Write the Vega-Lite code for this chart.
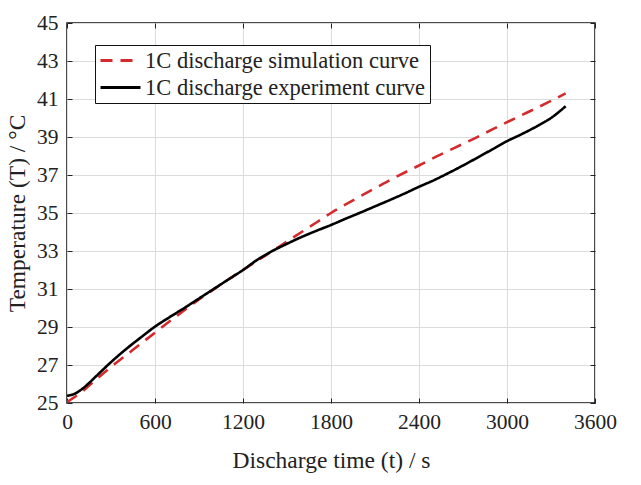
{
  "$schema": "https://vega.github.io/schema/vega-lite/v6.json",
  "width": 528,
  "height": 380,
  "autosize": {"type": "none"},
  "padding": {"left": 67, "top": 23, "right": 46, "bottom": 82},
  "background": "white",
  "config": {
    "view": {"stroke": "#111", "strokeWidth": 1.5},
    "font": "Liberation Serif",
    "axis": {
      "labelFont": "Liberation Serif",
      "titleFont": "Liberation Serif",
      "labelFontSize": 21.5,
      "titleFontSize": 23.5,
      "titleFontWeight": "normal",
      "labelColor": "#222",
      "titleColor": "#222",
      "gridColor": "#dcdcdc",
      "gridWidth": 1,
      "tickColor": "#222",
      "tickSize": -5,
      "tickWidth": 1,
      "domain": false,
      "labelFlush": false,
      "format": "d"
    },
    "legend": {"labelFont": "Liberation Serif"}
  },
  "data": {
    "values": [
      {"t": 0, "T": 25.05, "s": "1C discharge simulation curve"},
      {"t": 100, "T": 25.58, "s": "1C discharge simulation curve"},
      {"t": 200, "T": 26.25, "s": "1C discharge simulation curve"},
      {"t": 300, "T": 26.9, "s": "1C discharge simulation curve"},
      {"t": 400, "T": 27.5, "s": "1C discharge simulation curve"},
      {"t": 500, "T": 28.1, "s": "1C discharge simulation curve"},
      {"t": 600, "T": 28.7, "s": "1C discharge simulation curve"},
      {"t": 700, "T": 29.3, "s": "1C discharge simulation curve"},
      {"t": 800, "T": 29.88, "s": "1C discharge simulation curve"},
      {"t": 900, "T": 30.45, "s": "1C discharge simulation curve"},
      {"t": 1000, "T": 30.98, "s": "1C discharge simulation curve"},
      {"t": 1100, "T": 31.5, "s": "1C discharge simulation curve"},
      {"t": 1200, "T": 32.0, "s": "1C discharge simulation curve"},
      {"t": 1300, "T": 32.5, "s": "1C discharge simulation curve"},
      {"t": 1400, "T": 33.0, "s": "1C discharge simulation curve"},
      {"t": 1500, "T": 33.5, "s": "1C discharge simulation curve"},
      {"t": 1600, "T": 34.0, "s": "1C discharge simulation curve"},
      {"t": 1700, "T": 34.5, "s": "1C discharge simulation curve"},
      {"t": 1800, "T": 35.0, "s": "1C discharge simulation curve"},
      {"t": 1900, "T": 35.45, "s": "1C discharge simulation curve"},
      {"t": 2000, "T": 35.88, "s": "1C discharge simulation curve"},
      {"t": 2100, "T": 36.3, "s": "1C discharge simulation curve"},
      {"t": 2200, "T": 36.72, "s": "1C discharge simulation curve"},
      {"t": 2300, "T": 37.12, "s": "1C discharge simulation curve"},
      {"t": 2400, "T": 37.5, "s": "1C discharge simulation curve"},
      {"t": 2500, "T": 37.9, "s": "1C discharge simulation curve"},
      {"t": 2600, "T": 38.27, "s": "1C discharge simulation curve"},
      {"t": 2700, "T": 38.64, "s": "1C discharge simulation curve"},
      {"t": 2800, "T": 39.01, "s": "1C discharge simulation curve"},
      {"t": 2900, "T": 39.4, "s": "1C discharge simulation curve"},
      {"t": 3000, "T": 39.78, "s": "1C discharge simulation curve"},
      {"t": 3100, "T": 40.15, "s": "1C discharge simulation curve"},
      {"t": 3200, "T": 40.52, "s": "1C discharge simulation curve"},
      {"t": 3300, "T": 40.9, "s": "1C discharge simulation curve"},
      {"t": 3400, "T": 41.3, "s": "1C discharge simulation curve"},
      {"t": 0, "T": 25.38, "s": "1C discharge experiment curve"},
      {"t": 50, "T": 25.48, "s": "1C discharge experiment curve"},
      {"t": 100, "T": 25.72, "s": "1C discharge experiment curve"},
      {"t": 150, "T": 26.05, "s": "1C discharge experiment curve"},
      {"t": 200, "T": 26.42, "s": "1C discharge experiment curve"},
      {"t": 300, "T": 27.15, "s": "1C discharge experiment curve"},
      {"t": 400, "T": 27.82, "s": "1C discharge experiment curve"},
      {"t": 500, "T": 28.43, "s": "1C discharge experiment curve"},
      {"t": 600, "T": 29.02, "s": "1C discharge experiment curve"},
      {"t": 700, "T": 29.52, "s": "1C discharge experiment curve"},
      {"t": 800, "T": 30.0, "s": "1C discharge experiment curve"},
      {"t": 900, "T": 30.5, "s": "1C discharge experiment curve"},
      {"t": 1000, "T": 31.0, "s": "1C discharge experiment curve"},
      {"t": 1100, "T": 31.5, "s": "1C discharge experiment curve"},
      {"t": 1200, "T": 32.0, "s": "1C discharge experiment curve"},
      {"t": 1300, "T": 32.55, "s": "1C discharge experiment curve"},
      {"t": 1400, "T": 33.0, "s": "1C discharge experiment curve"},
      {"t": 1500, "T": 33.38, "s": "1C discharge experiment curve"},
      {"t": 1600, "T": 33.74, "s": "1C discharge experiment curve"},
      {"t": 1700, "T": 34.06, "s": "1C discharge experiment curve"},
      {"t": 1800, "T": 34.37, "s": "1C discharge experiment curve"},
      {"t": 1900, "T": 34.7, "s": "1C discharge experiment curve"},
      {"t": 2000, "T": 35.02, "s": "1C discharge experiment curve"},
      {"t": 2100, "T": 35.35, "s": "1C discharge experiment curve"},
      {"t": 2200, "T": 35.68, "s": "1C discharge experiment curve"},
      {"t": 2300, "T": 36.02, "s": "1C discharge experiment curve"},
      {"t": 2400, "T": 36.38, "s": "1C discharge experiment curve"},
      {"t": 2500, "T": 36.72, "s": "1C discharge experiment curve"},
      {"t": 2600, "T": 37.1, "s": "1C discharge experiment curve"},
      {"t": 2700, "T": 37.5, "s": "1C discharge experiment curve"},
      {"t": 2800, "T": 37.92, "s": "1C discharge experiment curve"},
      {"t": 2900, "T": 38.35, "s": "1C discharge experiment curve"},
      {"t": 3000, "T": 38.78, "s": "1C discharge experiment curve"},
      {"t": 3100, "T": 39.15, "s": "1C discharge experiment curve"},
      {"t": 3200, "T": 39.55, "s": "1C discharge experiment curve"},
      {"t": 3300, "T": 40.0, "s": "1C discharge experiment curve"},
      {"t": 3400, "T": 40.62, "s": "1C discharge experiment curve"}
    ]
  },
  "layer": [
    {
      "mark": {"type": "line", "strokeWidth": 2.6, "interpolate": "monotone", "clip": true},
      "encoding": {
        "x": {
          "field": "t", "type": "quantitative",
          "scale": {"domain": [0, 3600], "nice": false},
          "axis": {"values": [0, 600, 1200, 1800, 2400, 3000, 3600], "title": "Discharge time (t) / s", "labelPadding": 13, "titlePadding": 16}
        },
        "y": {
          "field": "T", "type": "quantitative",
          "scale": {"domain": [25, 45], "nice": false, "zero": false},
          "axis": {"values": [25, 27, 29, 31, 33, 35, 37, 39, 41, 43, 45], "title": "Temperature (T) / °C", "labelPadding": 14, "titlePadding": 7}
        },
        "color": {
          "field": "s", "type": "nominal",
          "scale": {"domain": ["1C discharge simulation curve", "1C discharge experiment curve"], "range": ["#d52a2d", "#000000"]},
          "legend": {
            "title": null,
            "orient": "none",
            "legendX": 28,
            "legendY": 22,
            "symbolType": "M-1,0H3",
            "symbolSize": 400,
            "symbolStrokeWidth": 3,
            "labelFontSize": 22.5,
            "labelColor": "#222",
            "labelLimit": 400,
            "rowPadding": 4,
            "fillColor": "white",
            "strokeColor": "#111",
            "padding": 4,
            "labelOffset": 23
          }
        },
        "strokeDash": {
          "field": "s", "type": "nominal",
          "scale": {"domain": ["1C discharge simulation curve", "1C discharge experiment curve"], "range": [[12, 8], [1, 0]]},
          "legend": null
        }
      }
    },
    {
      "mark": {"type": "line", "opacity": 0},
      "encoding": {
        "x": {
          "field": "t", "type": "quantitative",
          "axis": {"orient": "top", "values": [0, 600, 1200, 1800, 2400, 3000, 3600], "labels": false, "grid": false, "title": null}
        },
        "y": {
          "field": "T", "type": "quantitative",
          "axis": {"orient": "right", "values": [25, 27, 29, 31, 33, 35, 37, 39, 41, 43, 45], "labels": false, "grid": false, "title": null}
        },
        "detail": {"field": "s"}
      }
    }
  ],
  "resolve": {"axis": {"x": "independent", "y": "independent"}}
}
